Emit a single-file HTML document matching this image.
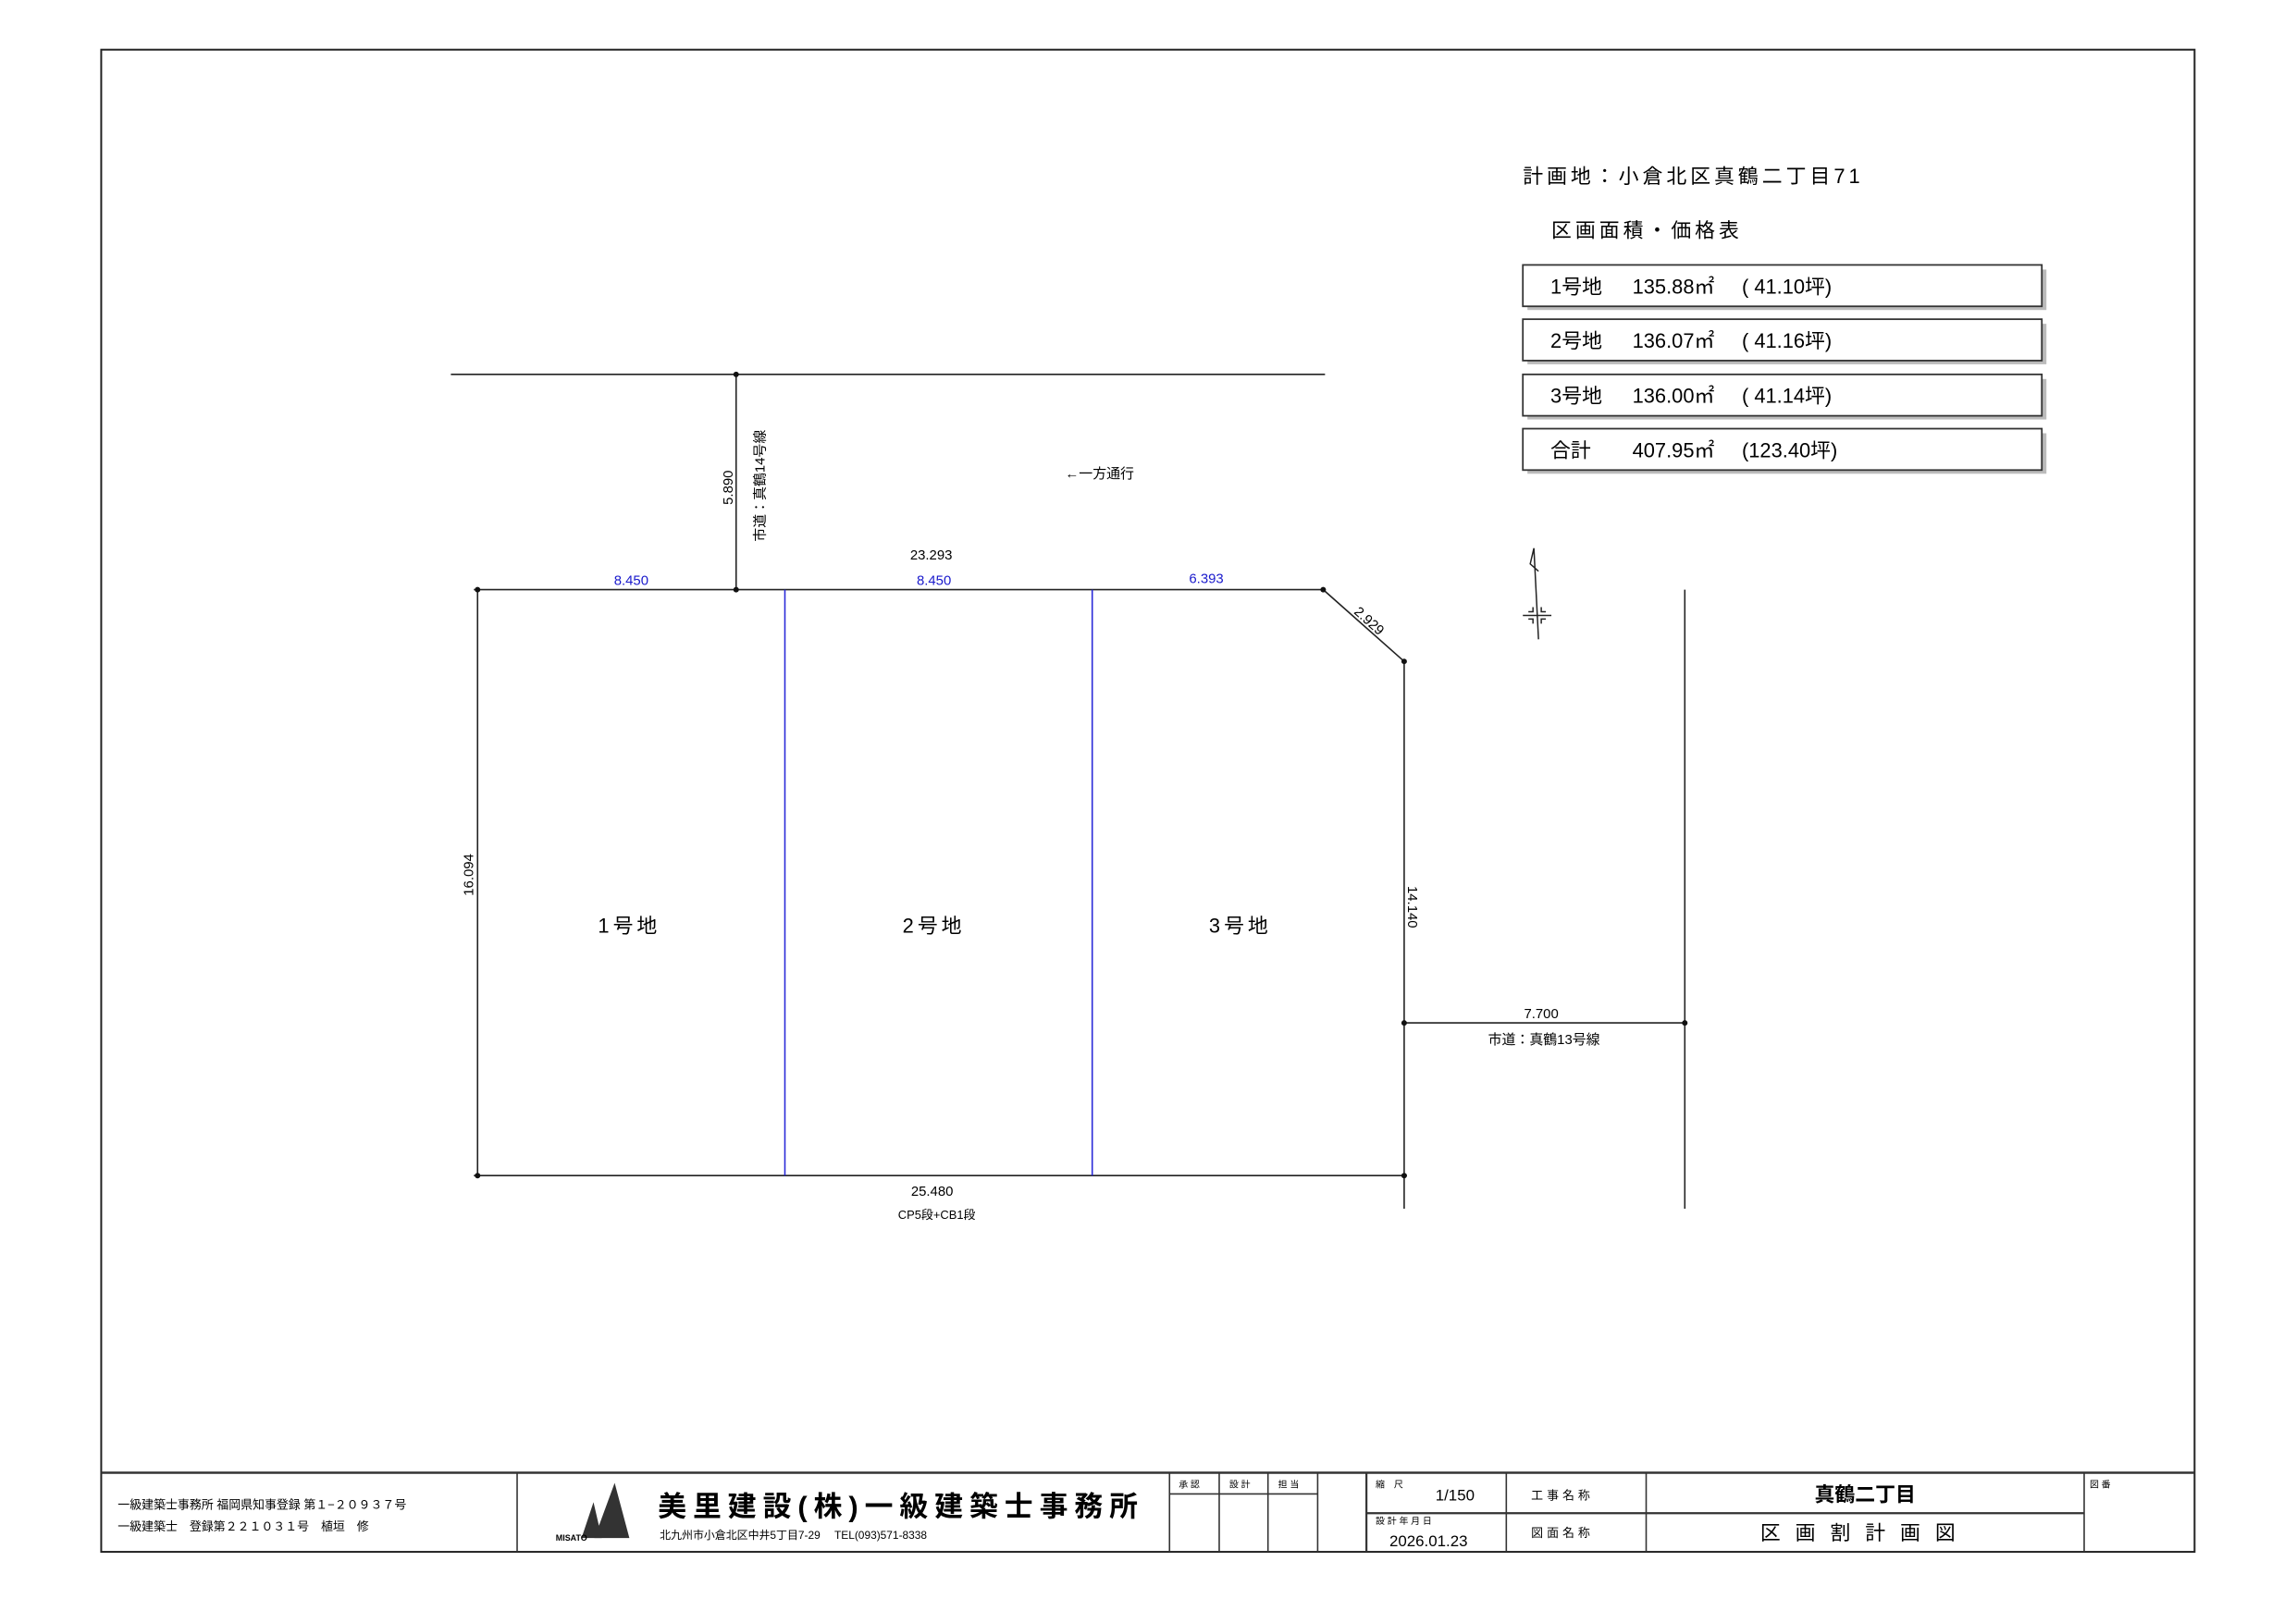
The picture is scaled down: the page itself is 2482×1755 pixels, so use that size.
<!DOCTYPE html>
<html><head><meta charset="utf-8"><style>
html,body{margin:0;padding:0;background:#fff;}
svg{display:block;}
text{font-family:"Liberation Sans","Noto Sans CJK JP",sans-serif;fill:#000;}
</style></head><body>
<svg width="2482" height="1755" viewBox="0 0 2482 1755" xmlns="http://www.w3.org/2000/svg">
<rect x="0" y="0" width="2482" height="1755" fill="#fff"/>
<g transform="scale(0.9947)">
<rect x="110" y="54" width="2275" height="1633" fill="none" stroke="#222" stroke-width="2"/>
<g stroke="#333" stroke-width="1.6" fill="none">
<line x1="110" y1="1601" x2="2385" y2="1601" stroke-width="2.5"/>
<line x1="562" y1="1601" x2="562" y2="1687"/>
<line x1="1271" y1="1601" x2="1271" y2="1687"/>
<line x1="1325" y1="1601" x2="1325" y2="1687"/>
<line x1="1378" y1="1601" x2="1378" y2="1687"/>
<line x1="1432" y1="1601" x2="1432" y2="1687"/>
<line x1="1485" y1="1601" x2="1485" y2="1687" stroke-width="2.2"/>
<line x1="1637" y1="1601" x2="1637" y2="1687"/>
<line x1="1789" y1="1601" x2="1789" y2="1687"/>
<line x1="2265" y1="1601" x2="2265" y2="1687"/>
<line x1="1271" y1="1624" x2="1432" y2="1624"/>
<line x1="1485" y1="1645" x2="2265" y2="1645" stroke-width="2.2"/>
</g>
<text x="128" y="1640" font-size="13">一級建築士事務所 福岡県知事登録 第１−２０９３７号</text>
<text x="128" y="1664" font-size="13">一級建築士　登録第２２１０３１号　植垣　修</text>
<g fill="#333">
<polygon points="632,1672 645,1633 654,1672"/>
<polygon points="646,1672 668,1612 684,1672"/>
</g>
<text x="604" y="1675" font-size="9" font-weight="bold">MISATO</text>
<text x="715" y="1648" font-size="31" font-weight="bold" letter-spacing="7">美里建設(株)一級建築士事務所</text>
<text x="717" y="1673" font-size="12">北九州市小倉北区中井5丁目7-29　 TEL(093)571-8338</text>
<g font-size="10">
<text x="1281" y="1617">承 認</text><text x="1336" y="1617">設 計</text><text x="1389" y="1617">担 当</text>
<text x="1495" y="1617">縮　尺</text>
<text x="1495" y="1657">設 計 年 月 日</text>
<text x="2271" y="1617">図 番</text>
</g>
<text x="1560" y="1631" font-size="17">1/150</text>
<text x="1510" y="1681" font-size="17">2026.01.23</text>
<text x="1664" y="1630" font-size="13" letter-spacing="4">工事名称</text>
<text x="1664" y="1671" font-size="13" letter-spacing="4">図面名称</text>
<text x="2027" y="1632" font-size="22" text-anchor="middle" font-weight="bold">真鶴二丁目</text>
<text x="2027" y="1674" font-size="22" text-anchor="middle" letter-spacing="16">区画割計画図</text>

<g stroke="#222" stroke-width="1.6" fill="none">
<line x1="490" y1="407" x2="1440" y2="407"/>
<line x1="800" y1="407" x2="800" y2="641"/>
<polyline points="515,641 1438,641 1526,719 1526,1314"/>
<line x1="519" y1="641" x2="519" y2="1278"/>
<line x1="515" y1="1278" x2="1529" y2="1278"/>
<line x1="1526" y1="1112" x2="1831" y2="1112"/>
<line x1="1831" y1="641" x2="1831" y2="1314"/>
</g>
<g stroke="#2a2ad8" stroke-width="1.6">
<line x1="853" y1="641" x2="853" y2="1278"/>
<line x1="1187" y1="641" x2="1187" y2="1278"/>
</g>
<g fill="#111">
<circle cx="800" cy="407" r="3"/><circle cx="800" cy="641" r="3"/><circle cx="519" cy="641" r="3"/>
<circle cx="1438" cy="641" r="3"/><circle cx="1526" cy="719" r="3"/><circle cx="519" cy="1278" r="3"/>
<circle cx="1526" cy="1278" r="3"/><circle cx="1526" cy="1112" r="3"/><circle cx="1831" cy="1112" r="3"/>
</g>
<g font-size="22" text-anchor="middle">
<text x="684" y="1014" letter-spacing="4">1号地</text>
<text x="1015" y="1014" letter-spacing="4">2号地</text>
<text x="1348" y="1014" letter-spacing="4">3号地</text>
</g>
<g font-size="15" text-anchor="middle">
<text x="686" y="636" style="fill:#1a1acc">8.450</text>
<text x="1015" y="636" style="fill:#1a1acc">8.450</text>
<text x="1311" y="634" style="fill:#1a1acc">6.393</text>
<text x="1012" y="608">23.293</text>
<text x="1488" y="680" transform="rotate(42 1488 675)">2.929</text>
<text x="509" y="956" transform="rotate(-90 509 951)">16.094</text>
<text x="1535" y="991" transform="rotate(90 1535 986)">14.140</text>
<text x="1675" y="1107">7.700</text>
<text x="1678" y="1135">市道：真鶴13号線</text>
<text x="1013" y="1300">25.480</text>
<text x="1018" y="1325" font-size="13">CP5段+CB1段</text>
<text x="791" y="535" transform="rotate(-90 791 530)">5.890</text>
<text x="826" y="533" transform="rotate(-90 826 528)">市道：真鶴14号線</text>
<text x="1195" y="520">←一方通行</text>
</g>
<g stroke="#222" stroke-width="1.5" fill="none" transform="translate(8,3)">
<polyline points="1664,692 1659,593 1655,610 1664,618"/>
<line x1="1647" y1="666" x2="1678" y2="666"/>
<polyline points="1653,662 1658,662 1658,657"/><polyline points="1672,662 1667,662 1667,657"/>
<polyline points="1653,670 1658,670 1658,675"/><polyline points="1672,670 1667,670 1667,675"/>
</g>
<text x="1655" y="199" font-size="22" letter-spacing="4">計画地：小倉北区真鶴二丁目71</text>
<text x="1686" y="258" font-size="22" letter-spacing="4">区画面積・価格表</text>
<g>
<rect x="1660" y="293" width="564" height="44" fill="#bbb"/>
<rect x="1655" y="288" width="564" height="45" fill="#fff" stroke="#333" stroke-width="1.8"/>
<rect x="1660" y="352" width="564" height="44" fill="#bbb"/>
<rect x="1655" y="347" width="564" height="45" fill="#fff" stroke="#333" stroke-width="1.8"/>
<rect x="1660" y="412" width="564" height="44" fill="#bbb"/>
<rect x="1655" y="407" width="564" height="45" fill="#fff" stroke="#333" stroke-width="1.8"/>
<rect x="1660" y="471" width="564" height="44" fill="#bbb"/>
<rect x="1655" y="466" width="564" height="45" fill="#fff" stroke="#333" stroke-width="1.8"/>
</g>
<g font-size="22">
<text x="1685" y="319">1号地</text><text x="1774" y="319">135.88㎡</text><text x="1893" y="319">(  41.10坪)</text>
<text x="1685" y="378">2号地</text><text x="1774" y="378">136.07㎡</text><text x="1893" y="378">(  41.16坪)</text>
<text x="1685" y="438">3号地</text><text x="1774" y="438">136.00㎡</text><text x="1893" y="438">(  41.14坪)</text>
<text x="1685" y="497">合計</text><text x="1774" y="497">407.95㎡</text><text x="1893" y="497">(123.40坪)</text>
</g>
</g>
</svg>
</body></html>
